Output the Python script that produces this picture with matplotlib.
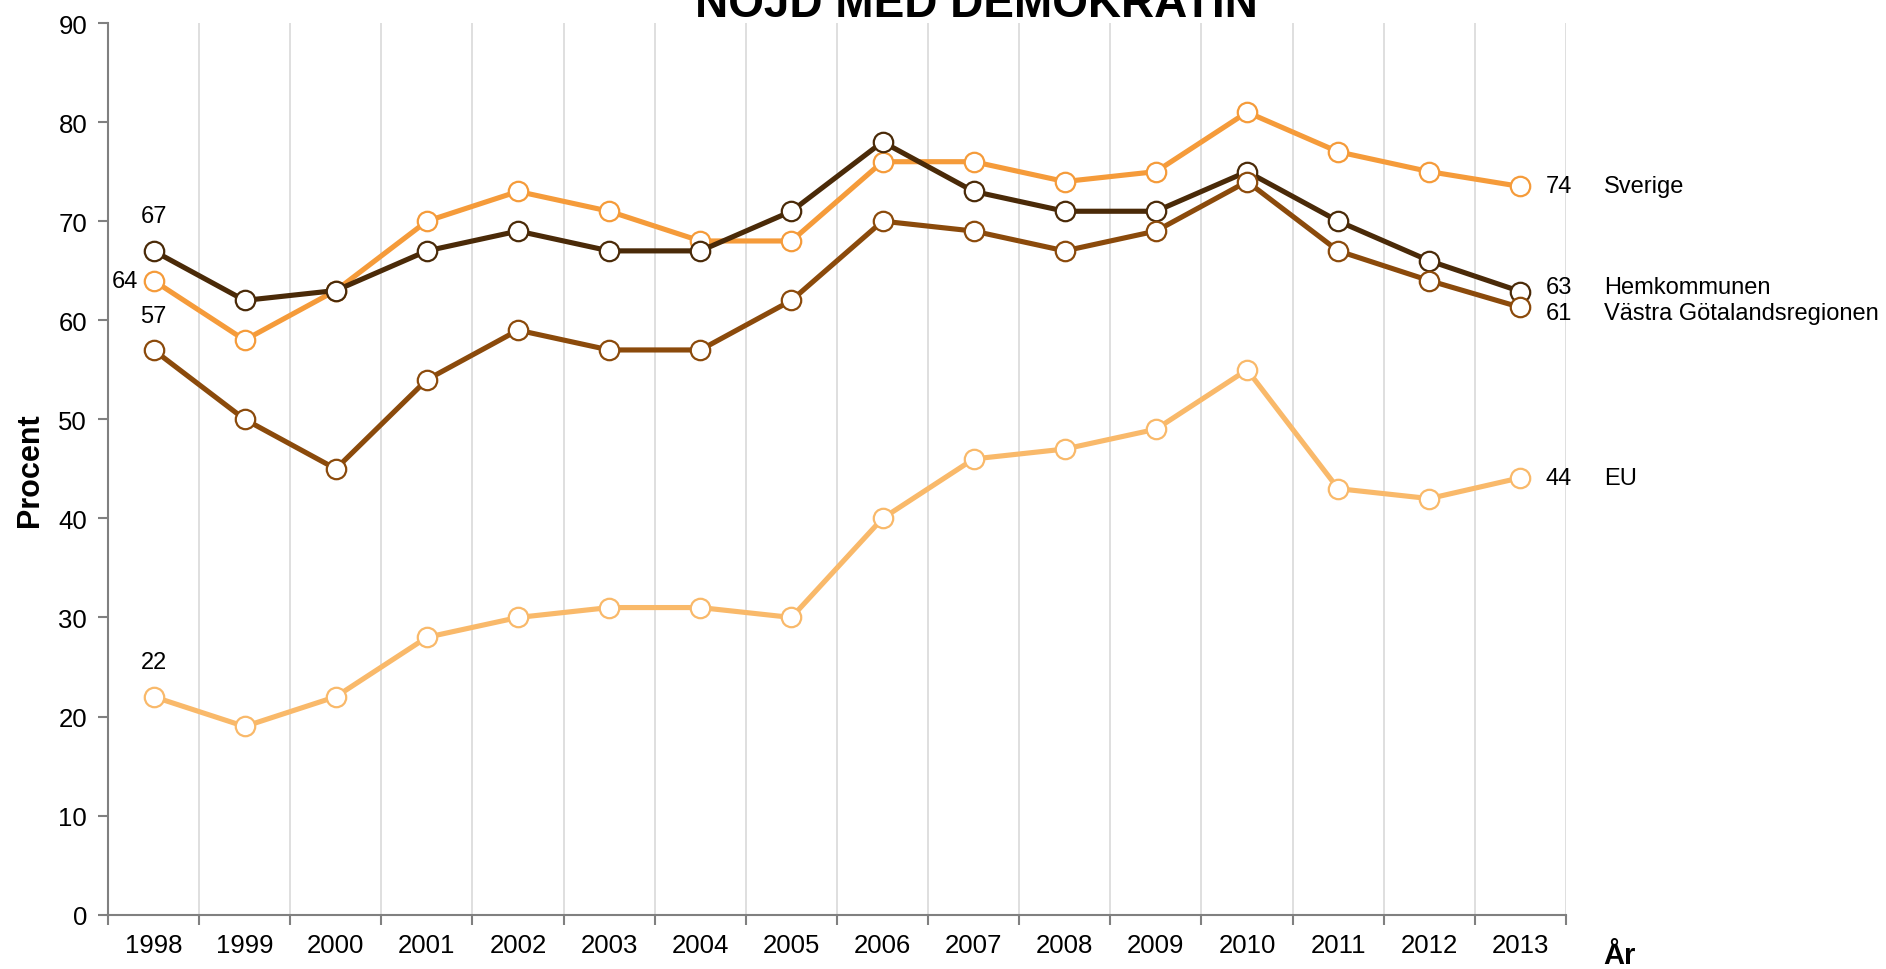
import matplotlib.pyplot as plt

plt.rcParams['font.family'] = ['Liberation Sans', 'DejaVu Sans']

# === DATA ===
years = ["1998", "1999", "2000", "2001", "2002", "2003", "2004", "2005",
         "2006", "2007", "2008", "2009", "2010", "2011", "2012", "2013"]
sverige = [64, 58, 63, 70, 73, 71, 68, 68, 76, 76, 74, 75, 81, 77, 75, 73.5]
hemkommunen = [67, 62, 63, 67, 69, 67, 67, 71, 78, 73, 71, 71, 75, 70, 66, 62.9]
vastra = [57, 50, 45, 54, 59, 57, 57, 62, 70, 69, 67, 69, 74, 67, 64, 61.3]
eu = [22, 19, 22, 28, 30, 31, 31, 30, 40, 46, 47, 49, 55, 43, 42, 44.1]

series_names = ["Sverige", "Hemkommunen", "Västra Götalandsregionen", "EU"]
end_labels = ["74", "63", "61", "44"]
start_labels = ["64", "67", "57", "22"]
colors = ["#F59B3A", "#4A2A08", "#8B4A0B", "#F9B96A"]

# === PLOT ===
fig = plt.figure(figsize=(18.86, 9.70), dpi=100)
ax = fig.add_axes([108 / 1886, 1 - 915.7 / 970, 1458 / 1886, (915.7 - 24) / 970])

x = list(range(len(years)))
all_series = [sverige, hemkommunen, vastra, eu]
# draw order: EU, Västra, Sverige, Hemkommunen on top
for idx in [3, 2, 0, 1]:
    ax.plot(x, all_series[idx], color=colors[idx], lw=3.7, marker='o', ms=14,
            mfc='white', mec=colors[idx], mew=1.6, zorder=3 + idx * 0.1, clip_on=False)

# start labels
ax.text(0, hemkommunen[0] + 3.5, start_labels[1], ha='center', va='center', fontsize=17)
ax.text(-0.17, sverige[0], start_labels[0], ha='right', va='center', fontsize=17)
ax.text(0, vastra[0] + 3.4, start_labels[2], ha='center', va='center', fontsize=17)
ax.text(0, eu[0] + 3.5, start_labels[3], ha='center', va='center', fontsize=17)

# end labels
end_y = [sverige[-1], 63.4, 60.7, eu[-1]]
for lab, name, yy in zip(end_labels, series_names, end_y):
    ax.text(15.28, yy, lab, ha='left', va='center', fontsize=17, clip_on=False)
    ax.text(15.92, yy, name, ha='left', va='center', fontsize=17, clip_on=False)

ax.set_xlim(-0.5, 15.5)
ax.set_ylim(0, 90)
ax.set_yticks(range(0, 91, 10))
ax.set_xticks([i + 0.5 for i in range(-1, 16)], minor=False)
ax.set_xticklabels([])
ax.set_xticks(x, minor=True)
ax.set_xticklabels(years, minor=True, fontsize=18.5)
ax.tick_params(axis='x', which='minor', length=0, pad=13)
ax.tick_params(axis='x', which='major', length=7, width=1.5, color='#808080')
ax.tick_params(axis='y', length=7, width=1.5, color='#808080', labelsize=18.5, pad=8)

ax.grid(axis='x', which='major', color='#DCDCDC', lw=1.3)
ax.set_axisbelow(True)
for s in ['top', 'right']:
    ax.spines[s].set_visible(False)
for s in ['left', 'bottom']:
    ax.spines[s].set_color('#808080')
    ax.spines[s].set_linewidth(1.5)

fig.text(30 / 1886, 1 - 470 / 970, "Procent", rotation=90, ha='center', va='center',
         fontsize=22, fontweight='bold')
fig.text(1619 / 1886, 1 - 956 / 970, "År", ha='center', va='center',
         fontsize=21, fontweight='bold')
fig.text(976 / 1886, 1 - 17 / 970, "NÖJD MED DEMOKRATIN", ha='center', va='baseline',
         fontsize=33, fontweight='bold')

plt.savefig("out.png", dpi=100)
plt.close()
